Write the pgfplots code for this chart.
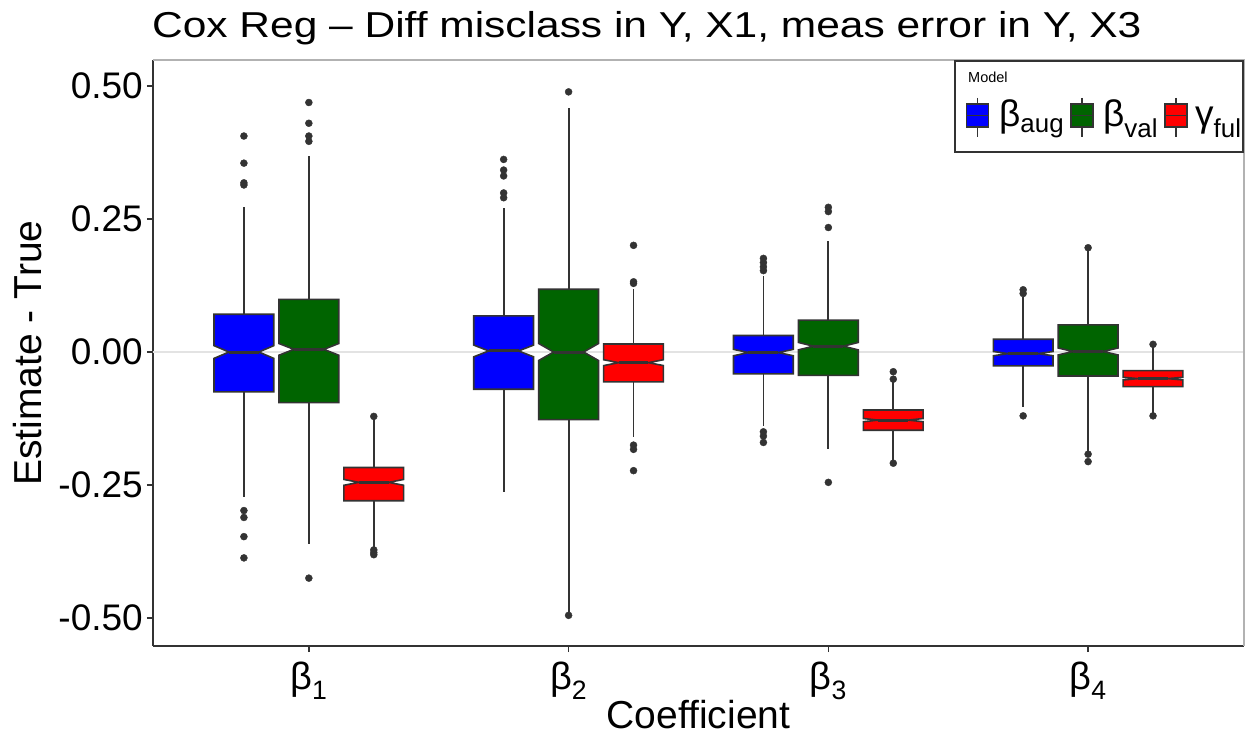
\documentclass[border=0pt]{standalone}
\usepackage{pgfplots}
\pgfplotsset{compat=1.18}
\usepackage{fontspec}
\setmainfont{Liberation Sans}

\definecolor{gtwenty}{HTML}{333333}
\definecolor{boxblue}{HTML}{0000FF}
\definecolor{boxgreen}{HTML}{006400}
\definecolor{boxred}{HTML}{FF0000}

% notched box: colour, centre, q1, notch lo, median, notch hi, q3, whisker lo, whisker hi
\newcommand{\nbox}[9]{%
  \addplot[draw=gtwenty, line width=1.8pt, x filter/.expression={x+#2}] coordinates {(0,#3) (0,#8)};
  \addplot[draw=gtwenty, line width=1.8pt, x filter/.expression={x+#2}] coordinates {(0,#7) (0,#9)};
  \addplot[fill=#1, draw=gtwenty, line width=1.6pt, x filter/.expression={x+#2}] coordinates {
    (-0.115,#3) (-0.115,#4) (-0.0575,#5) (-0.115,#6) (-0.115,#7)
    (0.115,#7) (0.115,#6) (0.0575,#5) (0.115,#4) (0.115,#3)} -- cycle;
  \addplot[draw=gtwenty, line width=3pt, x filter/.expression={x+#2}] coordinates {(-0.0575,#5) (0.0575,#5)};
}

\begin{document}
\begin{tikzpicture}
\useasboundingbox (-153pt,-90pt) rectangle (1092pt,646pt);
\begin{axis}[
  at={(0,0)}, anchor=south west,
  scale only axis, width=1091pt, height=586pt,
  xmin=0.4, xmax=4.6, ymin=-0.5526, ymax=0.5489,
  axis x line*=bottom, axis y line*=left,
  axis line style={gtwenty, line width=1.6pt, -},
  tick align=outside, major tick length=6pt,
  tick style={gtwenty, line width=1.4pt},
  xtick={1,2,3,4},
  xticklabels={β\textsubscript{1}, β\textsubscript{2}, β\textsubscript{3}, β\textsubscript{4}},
  ytick={-0.5,-0.25,0,0.25,0.5},
  yticklabels={-0.50,-0.25,0.00,0.25,0.50},
  yticklabel style={font=\fontsize{37}{44}\selectfont, inner sep=0pt, anchor=east},
  xticklabel style={font=\fontsize{38}{44}\selectfont, inner sep=0pt, anchor=north, yshift=-6pt},
  ticklabel shift=4pt,
]
\addplot[gray!22, line width=1.4pt] coordinates {(0.4,0) (4.6,0)};

% beta 1
\nbox{boxblue}{0.75}{-0.075}{-0.012}{0.000}{0.012}{0.071}{-0.272}{0.273}
\nbox{boxgreen}{1.00}{-0.095}{-0.006}{0.005}{0.016}{0.099}{-0.361}{0.369}
\nbox{boxred}{1.25}{-0.2795}{-0.2505}{-0.245}{-0.2395}{-0.217}{-0.368}{-0.123}
% beta 2
\nbox{boxblue}{1.75}{-0.070}{-0.009}{0.002}{0.013}{0.068}{-0.263}{0.271}
\nbox{boxgreen}{2.00}{-0.127}{-0.016}{0.000}{0.016}{0.118}{-0.488}{0.458}
\nbox{boxred}{2.25}{-0.056}{-0.0255}{-0.020}{-0.0145}{0.015}{-0.159}{0.118}
% beta 3
\nbox{boxblue}{2.75}{-0.041}{-0.007}{-0.001}{0.005}{0.031}{-0.139}{0.143}
\nbox{boxgreen}{3.00}{-0.044}{0.004}{0.011}{0.018}{0.060}{-0.183}{0.208}
\nbox{boxred}{3.25}{-0.147}{-0.131}{-0.128}{-0.125}{-0.109}{-0.206}{-0.056}
% beta 4
\nbox{boxblue}{3.75}{-0.026}{-0.007}{-0.003}{0.001}{0.024}{-0.103}{0.104}
\nbox{boxgreen}{4.00}{-0.045}{-0.0055}{0.001}{0.0075}{0.051}{-0.187}{0.192}
\nbox{boxred}{4.25}{-0.065}{-0.0525}{-0.050}{-0.0475}{-0.035}{-0.115}{0.010}

% outliers
\addplot[only marks, mark=*, mark size=3.5pt, gtwenty] coordinates {
  (0.75,0.406) (0.75,0.355) (0.75,0.318) (0.75,0.314)
  (0.75,-0.298) (0.75,-0.311) (0.75,-0.347) (0.75,-0.387)
  (1,0.469) (1,0.430) (1,0.406) (1,0.396) (1,-0.425)
  (1.25,-0.121) (1.25,-0.372) (1.25,-0.377) (1.25,-0.381)
  (1.75,0.362) (1.75,0.342) (1.75,0.331) (1.75,0.299) (1.75,0.290)
  (2,0.489) (2,-0.495)
  (2.25,0.2005) (2.25,0.132) (2.25,0.129) (2.25,-0.175) (2.25,-0.183) (2.25,-0.223)
  (2.75,0.176) (2.75,0.168) (2.75,0.160) (2.75,0.153)
  (2.75,-0.150) (2.75,-0.158) (2.75,-0.170)
  (3,0.272) (3,0.264) (3,0.234) (3,-0.245)
  (3.25,-0.037) (3.25,-0.051) (3.25,-0.209)
  (3.75,0.117) (3.75,0.110) (3.75,-0.120)
  (4,0.196) (4,-0.192) (4,-0.206)
  (4.25,0.0145) (4.25,-0.120)
};
\end{axis}

% top and right panel border
\draw[gray!60, line width=1.2pt] (0,586pt) -- (1091pt,586pt) -- (1091pt,0);

% titles
\node[anchor=base west, inner sep=0pt, font=\fontsize{36}{42}\selectfont] at (-1pt,608pt)
  {\scalebox{1.18}[1]{Cox Reg – Diff misclass in Y, X1, meas error in Y, X3}};
\node[anchor=base, inner sep=0pt, font=\fontsize{39}{46}\selectfont] at (545.5pt,-82pt) {Coefficient};
\node[anchor=base, rotate=90, inner sep=0pt, font=\fontsize{39}{46}\selectfont] at (-111pt,293pt) {Estimate - True};

% legend
\draw[gtwenty, line width=1.2pt, fill=white] (802pt,585pt) rectangle (1090pt,494pt);
\node[anchor=base west, inner sep=0pt, font=\fontsize{14.5}{17}\selectfont] at (815pt,563pt) {Model};
\foreach \c/\xx in {boxblue/824.5, boxgreen/929, boxred/1023} {
  \draw[gtwenty, line width=1.4pt] (\xx pt,548pt) -- (\xx pt,509pt);
  \draw[gtwenty, line width=1.4pt, fill=\c] (\xx pt-11pt,519pt) rectangle (\xx pt+11pt,542pt);
  \draw[gtwenty, line width=1.8pt] (\xx pt-11pt,530.5pt) -- (\xx pt+11pt,530.5pt);
}
\node[anchor=base west, inner sep=0pt, font=\fontsize{37}{42}\selectfont] at (846pt,519pt) {β\textsubscript{aug}};
\node[anchor=base west, inner sep=0pt, font=\fontsize{37}{42}\selectfont] at (950pt,519pt) {β\textsubscript{val}};
\node[anchor=base west, inner sep=0pt, font=\fontsize{37}{42}\selectfont] at (1042pt,519pt) {γ\textsubscript{ful}};
\end{tikzpicture}
\end{document}
